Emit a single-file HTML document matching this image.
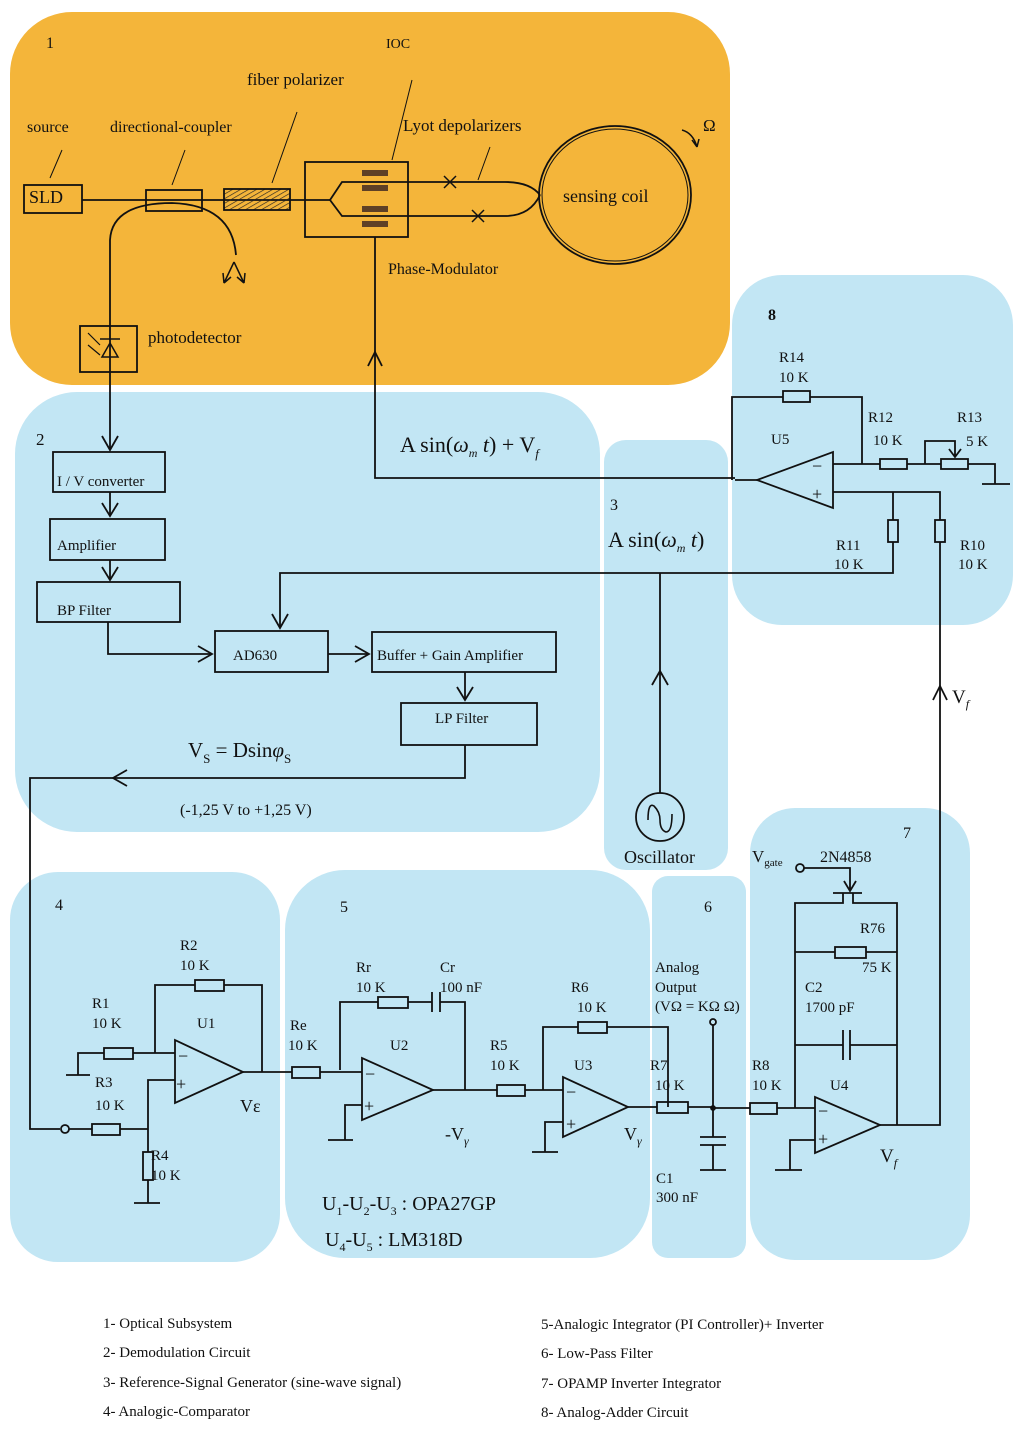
<!DOCTYPE html>
<html><head><meta charset="utf-8"><style>
html,body{margin:0;padding:0;background:#fff;}
svg{display:block;}
text{font-family:"Liberation Serif",serif;fill:#111;}
</style></head><body>
<svg width="1024" height="1429" viewBox="0 0 1024 1429" xmlns="http://www.w3.org/2000/svg">
<defs>
<pattern id="h" width="4" height="4" patternUnits="userSpaceOnUse" patternTransform="rotate(60)"><line x1="0" y1="0" x2="0" y2="4" stroke="#222" stroke-width="1.3"/></pattern>
</defs>
<rect x="10" y="12" width="720" height="373" rx="62" fill="#f4b53a"/>
<rect x="15" y="392" width="585" height="440" rx="62" fill="#c2e6f4"/>
<rect x="604" y="440" width="124" height="430" rx="22" fill="#c2e6f4"/>
<rect x="732" y="275" width="281" height="350" rx="50" fill="#c2e6f4"/>
<rect x="10" y="872" width="270" height="390" rx="48" fill="#c2e6f4"/>
<rect x="285" y="870" width="365" height="388" rx="60" fill="#c2e6f4"/>
<rect x="652" y="876" width="94" height="382" rx="16" fill="#c2e6f4"/>
<rect x="750" y="808" width="220" height="452" rx="45" fill="#c2e6f4"/>

<g fill="none" stroke="#111" stroke-width="1.8">
<rect x="24" y="185" width="58" height="28"/>
<line x1="82" y1="200" x2="330" y2="200"/>
<rect x="146" y="190" width="56" height="21"/>
<rect x="224" y="189" width="66" height="21" fill="url(#h)"/>
<rect x="305" y="162" width="103" height="75"/>
<path d="M330,200 L342,182 L505,182 Q530,182 540,195"/>
<path d="M330,200 L342,216 L505,216 Q530,216 540,195"/>
<ellipse cx="615" cy="195" rx="76" ry="69"/>
<ellipse cx="615" cy="195" rx="73" ry="66" stroke-width="1"/>
<path d="M444,176 L456,188 M456,176 L444,188 M472,210 L484,222 M484,210 L472,222" stroke-width="1.5"/>
<path d="M50,178 L62,150 M172,185 L185,150 M272,183 L297,112 M392,160 L412,80 M478,180 L490,147" stroke-width="1"/>
<path d="M110,326 L110,240 Q112,203 172,203 Q232,205 236,255"/>
<path d="M234,262 L224,283 M234,262 L244,283 M224,283 L223,273 M224,283 L231,277 M244,283 L245,273 M244,283 L237,277" stroke-width="1.5"/>
<path d="M682,130 Q693,133 697,147 M697,147 L692,140 M697,147 L699,139" stroke-width="1.5"/>
<rect x="80" y="326" width="57" height="46"/>
<path d="M100,339 L120,339 M102,357 L118,357 L110,343 Z" stroke-width="1.5"/>
<path d="M88,333 L100,345 M88,345 L100,355" stroke-width="1.2"/>
<line x1="110" y1="326" x2="110" y2="450"/>
<path d="M102,436 L110,450 L118,436"/>
<path d="M375,237 L375,478 L735,478"/>
<path d="M368,366 L375,352 L382,366"/>
<rect x="53" y="452" width="112" height="40"/>
<line x1="110" y1="492" x2="110" y2="516"/><path d="M102,503 L110,516 L118,503"/>
<rect x="50" y="519" width="115" height="41"/>
<line x1="110" y1="560" x2="110" y2="580"/><path d="M102,567 L110,580 L118,567"/>
<rect x="37" y="582" width="143" height="40"/>
<path d="M108,622 L108,654 L212,654"/><path d="M198,646 L212,654 L198,662"/>
<rect x="215" y="631" width="113" height="41"/>
<line x1="328" y1="654" x2="369" y2="654"/><path d="M355,646 L369,654 L355,662"/>
<rect x="372" y="632" width="184" height="40"/>
<line x1="465" y1="672" x2="465" y2="700"/><path d="M457,687 L465,700 L473,687"/>
<rect x="401" y="703" width="136" height="42"/>
<path d="M465,745 L465,778 L30,778 L30,1129 L60,1129"/>
<path d="M127,770 L113,778 L127,786"/>
<path d="M893,542 L893,573 L280,573 L280,628"/>
<path d="M272,614 L280,628 L288,614"/>
<line x1="660" y1="573" x2="660" y2="793"/>
<path d="M652,685 L660,671 L668,685"/>
<circle cx="660" cy="817" r="24"/>
<path d="M648,820 Q648,802 654,806 Q660,812 660,820 Q660,830 666,832 Q672,832 672,814" stroke-width="1.6"/>
<path d="M833,452 L833,508 L757,480 Z"/>
<path d="M735,480 L757,480"/>
<path d="M732,480 L732,397 L862,397 L862,464"/>
<rect x="783" y="391" width="27" height="11" fill="#c2e6f4"/>
<path d="M833,464 L995,464 L995,484 M982,484 L1010,484"/>
<rect x="880" y="459" width="27" height="10" fill="#c2e6f4"/>
<rect x="941" y="459" width="27" height="10" fill="#c2e6f4"/>
<path d="M925,464 L925,441 L955,441 L955,457 M949,449 L955,457 L961,449"/>
<path d="M833,492 L940,492 L940,1125 L880,1125"/>
<rect x="888" y="520" width="10" height="22" fill="#c2e6f4"/>
<line x1="893" y1="492" x2="893" y2="520"/>
<rect x="935" y="520" width="10" height="22" fill="#c2e6f4"/>
<path d="M933,700 L940,686 L947,700"/>
<circle cx="800" cy="868" r="4"/>
<path d="M804,868 L850,868 L850,891 M844,881 L850,891 L856,881"/>
<path d="M833,893 L862,893 M843,893 L843,903 L795,903 L795,1108 M853,893 L853,903 L897,903 L897,1125"/>
<path d="M795,952 L897,952"/><rect x="835" y="947" width="31" height="11" fill="#c2e6f4"/>
<path d="M795,1045 L843,1045 M850,1045 L897,1045 M843,1030 L843,1060 M850,1030 L850,1060"/>
<path d="M815,1097 L815,1153 L880,1125 Z"/>
<path d="M713,1108 L815,1108"/><rect x="750" y="1103" width="27" height="11" fill="#c2e6f4"/>
<path d="M815,1140 L790,1140 L790,1170 M775,1170 L802,1170"/>
<circle cx="713" cy="1022" r="3"/>
<circle cx="713" cy="1108" r="2" fill="#111"/>
<path d="M713,1025 L713,1137 M700,1137 L726,1137 M700,1145 L726,1145 M713,1145 L713,1170 M700,1170 L726,1170"/>
<path d="M628,1107 L713,1107"/><rect x="657" y="1102" width="31" height="11" fill="#c2e6f4"/>
<path d="M563,1077 L563,1137 L628,1107 Z"/>
<path d="M543,1090 L543,1027 L668,1027 L668,1107"/>
<rect x="578" y="1022" width="29" height="11" fill="#c2e6f4"/>
<path d="M563,1122 L545,1122 L545,1152 M532,1152 L558,1152"/>
<path d="M433,1090 L563,1090"/><rect x="497" y="1085" width="28" height="11" fill="#c2e6f4"/>
<path d="M362,1058 L362,1120 L433,1090 Z"/>
<path d="M340,1070 L340,1002 L432,1002 M440,1002 L465,1002 L465,1090 M432,992 L432,1012 M440,992 L440,1012"/>
<rect x="378" y="997" width="30" height="11" fill="#c2e6f4"/>
<path d="M362,1105 L345,1105 L345,1140 M328,1140 L353,1140"/>
<path d="M243,1072 L362,1072"/><rect x="292" y="1067" width="28" height="11" fill="#c2e6f4"/>
<path d="M175,1040 L175,1103 L243,1072 Z"/>
<path d="M155,1053 L155,985 L262,985 L262,1072"/>
<rect x="195" y="980" width="29" height="11" fill="#c2e6f4"/>
<path d="M175,1053 L78,1053 L78,1075 M66,1075 L90,1075"/>
<rect x="104" y="1048" width="29" height="11" fill="#c2e6f4"/>
<path d="M175,1080 L148,1080 L148,1203 M134,1203 L160,1203"/>
<circle cx="65" cy="1129" r="4"/>
<path d="M69,1129 L148,1129"/>
<rect x="92" y="1124" width="28" height="11" fill="#c2e6f4"/>
<rect x="143" y="1152" width="10" height="28" fill="#c2e6f4"/>
</g>
<g fill="#5e4026">
<rect x="362" y="170" width="26" height="6"/><rect x="362" y="185" width="26" height="6"/>
<rect x="362" y="206" width="26" height="6"/><rect x="362" y="221" width="26" height="6"/>
</g>
<g font-size="18">
<text x="812" y="472">−</text><text x="812" y="500">+</text>
<text x="178" y="1062">−</text><text x="176" y="1090">+</text>
<text x="365" y="1080">−</text><text x="364" y="1112">+</text>
<text x="566" y="1098">−</text><text x="566" y="1130">+</text>
<text x="818" y="1117">−</text><text x="818" y="1145">+</text>
</g>
<g font-size="16">
<text x="46" y="48">1</text><text x="386" y="48" font-size="14">IOC</text>
<text x="247" y="85" font-size="17">fiber polarizer</text>
<text x="27" y="132">source</text><text x="110" y="132">directional-coupler</text>
<text x="403" y="131" font-size="17">Lyot depolarizers</text>
<text x="29" y="203" font-size="18">SLD</text>
<text x="563" y="202" font-size="18">sensing coil</text>
<text x="703" y="131" font-size="17">Ω</text>
<text x="388" y="274">Phase-Modulator</text>
<text x="148" y="343" font-size="17">photodetector</text>
<text x="36" y="445" font-size="17">2</text>
<text x="400" y="452" font-size="22">A sin(<tspan font-style="italic">ω</tspan><tspan font-size="12" font-style="italic" dy="5">m</tspan><tspan dy="-5" font-style="italic"> t</tspan>) + V<tspan font-size="13" font-style="italic" dy="6">f</tspan></text>
<text x="57" y="486" font-size="15">I / V converter</text>
<text x="57" y="550" font-size="15">Amplifier</text>
<text x="57" y="615" font-size="15">BP Filter</text>
<text x="233" y="660" font-size="15">AD630</text>
<text x="377" y="660" font-size="15">Buffer +  Gain Amplifier</text>
<text x="435" y="723" font-size="15">LP Filter</text>
<text x="188" y="757" font-size="21">V<tspan font-size="13" dy="6">S</tspan><tspan dy="-6"> = Dsin</tspan><tspan font-style="italic">φ</tspan><tspan font-size="13" dy="6">S</tspan></text>
<text x="180" y="815">(-1,25 V to +1,25 V)</text>
<text x="610" y="510">3</text>
<text x="608" y="547" font-size="22">A sin(<tspan font-style="italic">ω</tspan><tspan font-size="12" font-style="italic" dy="5">m</tspan><tspan dy="-5" font-style="italic"> t</tspan>)</text>
<text x="624" y="863" font-size="18">Oscillator</text>
<text x="768" y="320" font-weight="bold">8</text>
<text x="779" y="362" font-size="15">R14</text><text x="779" y="382" font-size="15">10 K</text>
<text x="771" y="444" font-size="15">U5</text>
<text x="868" y="422" font-size="15">R12</text><text x="873" y="445" font-size="15">10 K</text>
<text x="957" y="422" font-size="15">R13</text><text x="966" y="446" font-size="15">5 K</text>
<text x="836" y="550" font-size="15">R11</text><text x="834" y="569" font-size="15">10 K</text>
<text x="960" y="550" font-size="15">R10</text><text x="958" y="569" font-size="15">10 K</text>
<text x="952" y="703" font-size="19">V<tspan font-size="12" font-style="italic" dy="5">f</tspan></text>
<text x="903" y="838">7</text>
<text x="752" y="862" font-size="17">V<tspan font-size="11" dy="4">gate</tspan></text>
<text x="820" y="862" font-size="16">2N4858</text>
<text x="860" y="933" font-size="15">R76</text><text x="862" y="972" font-size="15">75 K</text>
<text x="805" y="992" font-size="15">C2</text><text x="805" y="1012" font-size="15">1700 pF</text>
<text x="752" y="1070" font-size="15">R8</text><text x="752" y="1090" font-size="15">10 K</text>
<text x="830" y="1090" font-size="15">U4</text>
<text x="880" y="1162" font-size="19">V<tspan font-size="12" font-style="italic" dy="5">f</tspan></text>
<text x="704" y="912">6</text>
<text x="655" y="972" font-size="15">Analog</text><text x="655" y="992" font-size="15">Output</text>
<text x="655" y="1011" font-size="15">(VΩ = KΩ Ω)</text>
<text x="650" y="1070" font-size="15">R7</text><text x="655" y="1090" font-size="15">10 K</text>
<text x="656" y="1183" font-size="15">C1</text><text x="656" y="1202" font-size="15">300 nF</text>
<text x="340" y="912">5</text>
<text x="356" y="972" font-size="15">Rr</text><text x="356" y="992" font-size="15">10 K</text>
<text x="440" y="972" font-size="15">Cr</text><text x="440" y="992" font-size="15">100 nF</text>
<text x="290" y="1030" font-size="15">Re</text><text x="288" y="1050" font-size="15">10 K</text>
<text x="390" y="1050" font-size="15">U2</text>
<text x="490" y="1050" font-size="15">R5</text><text x="490" y="1070" font-size="15">10 K</text>
<text x="571" y="992" font-size="15">R6</text><text x="577" y="1012" font-size="15">10 K</text>
<text x="574" y="1070" font-size="15">U3</text>
<text x="445" y="1140" font-size="18">-V<tspan font-size="12" font-style="italic" dy="5">γ</tspan></text>
<text x="624" y="1140" font-size="18">V<tspan font-size="12" font-style="italic" dy="5">γ</tspan></text>
<text x="322" y="1210" font-size="20">U<tspan font-size="12" dy="5">1</tspan><tspan dy="-5">-U</tspan><tspan font-size="12" dy="5">2</tspan><tspan dy="-5">-U</tspan><tspan font-size="12" dy="5">3</tspan><tspan dy="-5"> : OPA27GP</tspan></text>
<text x="325" y="1246" font-size="20">U<tspan font-size="12" dy="5">4</tspan><tspan dy="-5">-U</tspan><tspan font-size="12" dy="5">5</tspan><tspan dy="-5"> : LM318D</tspan></text>
<text x="55" y="910">4</text>
<text x="180" y="950" font-size="15">R2</text><text x="180" y="970" font-size="15">10 K</text>
<text x="92" y="1008" font-size="15">R1</text><text x="92" y="1028" font-size="15">10 K</text>
<text x="197" y="1028" font-size="15">U1</text>
<text x="95" y="1087" font-size="15">R3</text><text x="95" y="1110" font-size="15">10 K</text>
<text x="151" y="1160" font-size="15">R4</text><text x="151" y="1180" font-size="15">10 K</text>
<text x="240" y="1112" font-size="18">Vε</text>
</g>
<g font-size="15">
<text x="103" y="1328">1- Optical Subsystem</text>
<text x="103" y="1357">2- Demodulation Circuit</text>
<text x="103" y="1387">3- Reference-Signal Generator (sine-wave signal)</text>
<text x="103" y="1416">4- Analogic-Comparator</text>
<text x="541" y="1329">5-Analogic Integrator (PI Controller)+ Inverter</text>
<text x="541" y="1358">6- Low-Pass Filter</text>
<text x="541" y="1388">7- OPAMP Inverter Integrator</text>
<text x="541" y="1417">8- Analog-Adder Circuit</text>
</g>
</svg>
</body></html>
